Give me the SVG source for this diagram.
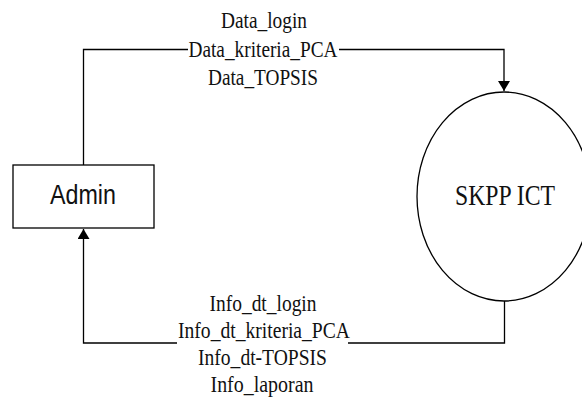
<svg xmlns="http://www.w3.org/2000/svg" width="582" height="398" viewBox="0 0 582 398">
  <style>
    .shape { fill: #ffffff; stroke: #000000; stroke-width: 1.3; }
    .flow { fill: none; stroke: #000000; stroke-width: 1.3; }
    .lbl { font-family: "Liberation Serif", "Times New Roman", serif; font-size: 24px; fill: #111111; text-anchor: middle; }
    .name-sans { font-family: "Liberation Sans", Arial, sans-serif; font-size: 28px; fill: #111111; text-anchor: middle; }
    .name-serif { font-family: "Liberation Serif", "Times New Roman", serif; font-size: 30px; fill: #111111; text-anchor: middle; }
    .gap { fill: #ffffff; stroke: none; }
  </style>
  <defs>
    <marker id="arrow" viewBox="0 0 10 12" refX="10" refY="6" markerWidth="10" markerHeight="12" markerUnits="userSpaceOnUse" orient="auto">
      <path d="M0,0 L10,6 L0,12 Z" fill="#000000"/>
    </marker>
  </defs>
  <rect width="582" height="398" fill="#ffffff"/>

  <g id="connectors">
    <!-- Admin to SKPP ICT -->
    <path class="flow" d="M83.5,165 V49.5 H504 V91" marker-end="url(#arrow)"/>
    <!-- SKPP ICT to Admin -->
    <path class="flow" d="M504.5,301 V343 H83.5 V229" marker-end="url(#arrow)"/>
    <!-- label backgrounds breaking the lines -->
    <rect class="gap" x="188" y="44" width="151" height="11"/>
    <rect class="gap" x="177" y="338" width="171" height="11"/>
    <text class="lbl" x="264" y="28" textLength="86" lengthAdjust="spacingAndGlyphs">Data_login</text>
    <text class="lbl" x="263" y="57" textLength="149" lengthAdjust="spacingAndGlyphs">Data_kriteria_PCA</text>
    <text class="lbl" x="263" y="85" textLength="110" lengthAdjust="spacingAndGlyphs">Data_TOPSIS</text>
    <text class="lbl" x="263" y="311" textLength="107" lengthAdjust="spacingAndGlyphs">Info_dt_login</text>
    <text class="lbl" x="264" y="338" textLength="172" lengthAdjust="spacingAndGlyphs">Info_dt_kriteria_PCA</text>
    <text class="lbl" x="262.5" y="365" textLength="129" lengthAdjust="spacingAndGlyphs">Info_dt-TOPSIS</text>
    <text class="lbl" x="262" y="392" textLength="103" lengthAdjust="spacingAndGlyphs">Info_laporan</text>
  </g>

  <g id="admin">
    <rect class="shape" x="13" y="165" width="141" height="63"/>
    <text class="name-sans" x="83" y="204" textLength="66" lengthAdjust="spacingAndGlyphs">Admin</text>
  </g>

  <g id="skpp-ict">
    <ellipse class="shape" cx="504" cy="196.5" rx="87" ry="104.5"/>
    <text class="name-serif" x="505" y="205" textLength="100" lengthAdjust="spacingAndGlyphs">SKPP ICT</text>
  </g>
</svg>
